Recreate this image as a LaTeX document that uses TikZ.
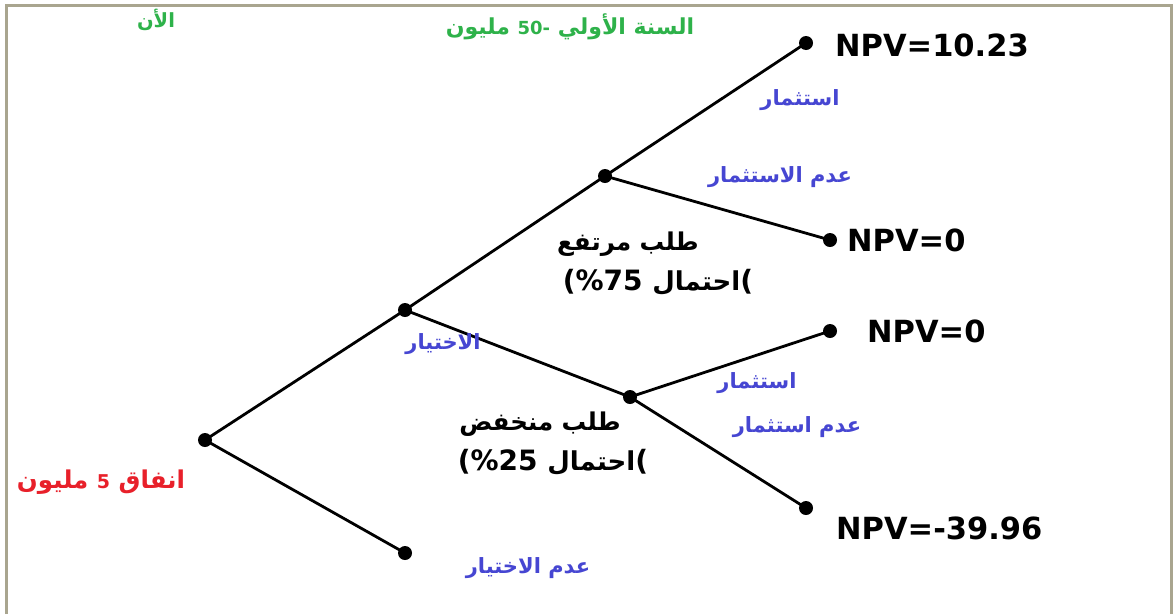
\documentclass[tikz,border=0pt]{standalone}
\usepackage{fontspec}
\TeXXeTstate=1
\newfontfamily\arabicfont[Script=Arabic]{DejaVu Sans}
\newfontfamily\latinbold{DejaVu Sans}[BoldFont={DejaVu Sans Bold}]
\definecolor{framegray}{HTML}{A9A58F}
\definecolor{labelgreen}{HTML}{2EB24A}
\definecolor{labelblue}{HTML}{4646D2}
\definecolor{labelred}{HTML}{E8202A}
\newcommand{\ar}[1]{{\arabicfont\beginR #1\endR}}
\newcommand{\lparen}{\hbox{\latinbold\bfseries (}}
\tikzset{
  x=1pt, y=-1pt,
  branch/.style={line width=2.8pt, black},
  chance/.style={circle, fill=black, inner sep=0pt, minimum size=14pt},
  npv/.style={anchor=west, inner sep=0pt, font=\latinbold\bfseries\fontsize{30.5}{34}\selectfont},
  act/.style={inner sep=0pt, text=labelblue, font=\arabicfont\bfseries\fontsize{21}{24}\selectfont},
  demand/.style={inner sep=0pt, font=\arabicfont\bfseries\fontsize{24.5}{28}\selectfont},
  prob/.style={inner sep=0pt, font=\latinbold\bfseries\fontsize{28}{31}\selectfont},
  period/.style={inner sep=0pt, text=labelgreen, font=\arabicfont\bfseries\fontsize{22}{25}\selectfont},
}
\begin{document}
\begin{tikzpicture}
\useasboundingbox (0,0) rectangle (1174,614);
\fill[white] (0,0) rectangle (1174,614);
% window frame
\draw[framegray, line width=2.6pt] (6.3,614) -- (6.3,5.3) -- (1171.5,5.3) -- (1171.5,614);

% decision and chance points
\node[chance] (root) at (205,440) {};
\node[chance] (opt) at (405,310) {};
\node[chance] (noopt) at (405,553) {};
\node[chance] (high) at (605,176) {};
\node[chance] (low) at (630,397) {};
\node[chance] (hinv) at (806,43) {};
\node[chance] (hno) at (830,240) {};
\node[chance] (linv) at (830,331) {};
\node[chance] (lno) at (806,508) {};

% branches
\draw[branch] (root.center) -- (opt.center);
\draw[branch] (root.center) -- (noopt.center);
\draw[branch] (opt.center) -- (high.center);
\draw[branch] (opt.center) -- (low.center);
\draw[branch] (high.center) -- (hinv.center);
\draw[branch] (high.center) -- (hno.center);
\draw[branch] (low.center) -- (linv.center);
\draw[branch] (low.center) -- (lno.center);

% time headings
\node[period, font=\arabicfont\bfseries\fontsize{19.5}{22}\selectfont] (now) at (156,20) {\ar{الأن}};
\node[period] (year1) at (570,27) {\ar{مليون}\ {\latinbold\bfseries\fontsize{18}{21}\selectfont 50-}\ \ar{السنة الأولي}};

% outcomes
\node[npv] (v1) at (835,45) {NPV=10.23};
\node[npv] (v2) at (847,240) {NPV=0};
\node[npv] (v3) at (867,331) {NPV=0};
\node[npv] (v4) at (836,528) {NPV=-39.96};

% action labels
\node[act] (a1) at (800,100) {\ar{استثمار}};
\node[act] (a2) at (780,177) {\ar{عدم الاستثمار}};
\node[act] (a3) at (443,344) {\ar{الاختيار}};
\node[act] (a4) at (757,383) {\ar{استثمار}};
\node[act] (a5) at (797,427) {\ar{عدم استثمار}};
\node[act] (a6) at (528,568) {\ar{عدم الاختيار}};

% demand states
\node[demand] (d1) at (628,244) {\ar{طلب مرتفع}};
\node[prob] (p1) at (658,282) {\lparen\%75 {\fontsize{26}{30}\selectfont\ar{احتمال}}\lparen};
\node[demand] (d2) at (540,424) {\ar{طلب منخفض}};
\node[prob] (p2) at (553,462) {\lparen\%25 {\fontsize{26}{30}\selectfont\ar{احتمال}}\lparen};

% initial outlay
\node[inner sep=0pt, text=labelred, font=\arabicfont\bfseries\fontsize{24.5}{27}\selectfont] (cost) at (101,482) {\ar{مليون}\ {\latinbold\bfseries\fontsize{19}{22}\selectfont 5}\ \ar{انفاق}};
\end{tikzpicture}
\end{document}
